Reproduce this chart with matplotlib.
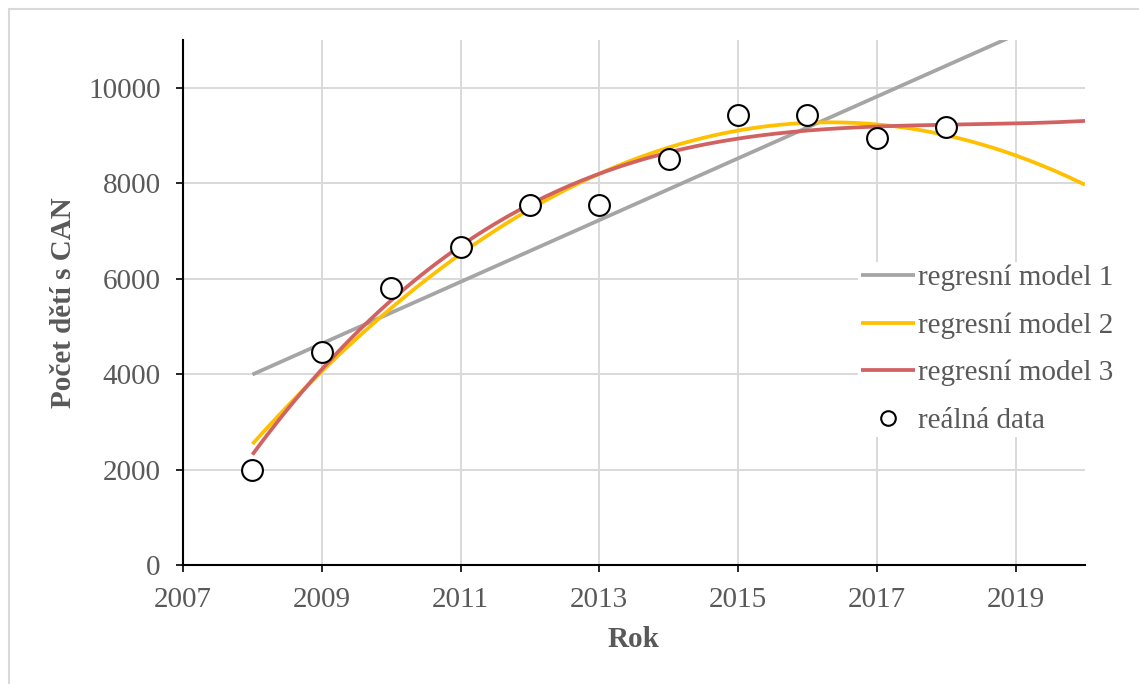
import matplotlib
matplotlib.use("Agg")
import matplotlib.pyplot as plt
import numpy as np
from matplotlib.patches import Rectangle

years = [2008, 2009, 2010, 2011, 2012, 2013, 2014, 2015, 2016, 2017, 2018]
counts = [2000, 4470, 5800, 6660, 7540, 7540, 8500, 9430, 9430, 8940, 9180]

# regression models: polynomial degree of each trend line
model_labels = ["regresní model 1", "regresní model 2", "regresní model 3"]
model_degrees = [1, 2, 3]
model_colors = ["#A5A5A5", "#FFC000", "#D16262"]
forecast_end = 2020

x_ticks = [2007, 2009, 2011, 2013, 2015, 2017, 2019]
y_ticks = [0, 2000, 4000, 6000, 8000, 10000]

plt.rcParams["font.family"] = ["Liberation Serif", "DejaVu Serif"]
text_color = "#595959"
grid_color = "#D9D9D9"
fs = 21

W, H = 1139, 684
fig = plt.figure(figsize=(W / 100, H / 100), dpi=100)
ax = fig.add_axes([183 / W, 1 - 565 / H, (1085 - 183) / W, (565 - 40) / H])

x_fit = np.linspace(years[0], forecast_end, 200)
for label, deg, color in zip(model_labels, model_degrees, model_colors):
	poly = np.polynomial.Polynomial.fit(years, counts, deg)
	ax.plot(x_fit, poly(x_fit), color=color, linewidth=2.7, label=label,
		solid_capstyle="butt", zorder=3)

ax.plot(years, counts, linestyle="none", marker="o", markersize=15,
	markerfacecolor="white", markeredgecolor="black", markeredgewidth=1.5,
	label="reálná data", zorder=4)

ax.set_xlim(2007, 2020)
ax.set_ylim(0, 11000)
ax.set_xticks(x_ticks)
ax.set_yticks(y_ticks)
ax.grid(True, color=grid_color, linewidth=1.4)
ax.set_axisbelow(True)

for side in ["top", "right"]:
	ax.spines[side].set_visible(False)
for side in ["left", "bottom"]:
	ax.spines[side].set_linewidth(1.5)
	ax.spines[side].set_color("black")

ax.tick_params(direction="out", length=5, width=1.2, pad=11,
	labelsize=fs, labelcolor=text_color, color="black")

ax.set_xlabel("Rok", fontsize=fs, fontweight="bold", color=text_color, labelpad=9)
ax.set_ylabel("Počet dětí s CAN", fontsize=fs, fontweight="bold", color=text_color, labelpad=8)

leg = ax.legend(loc="upper left", bbox_to_anchor=(858 / W, 1 - 262 / H),
	bbox_transform=fig.transFigure, fontsize=fs, frameon=True, fancybox=False,
	borderpad=0.1, handlelength=1.85, handletextpad=0.12, labelspacing=0.72,
	markerscale=0.7, borderaxespad=0)
leg.get_frame().set_facecolor("white")
leg.get_frame().set_edgecolor("none")
leg.get_frame().set_alpha(1)
for text in leg.get_texts():
	text.set_color(text_color)

# chart area border (only left and top fall inside the picture)
fig.patches.append(Rectangle((9 / W, -0.1), 1.2, 1.1 - 9 / H, transform=fig.transFigure,
	fill=False, edgecolor=grid_color, linewidth=1.5))

fig.savefig("out.png", dpi=100)
